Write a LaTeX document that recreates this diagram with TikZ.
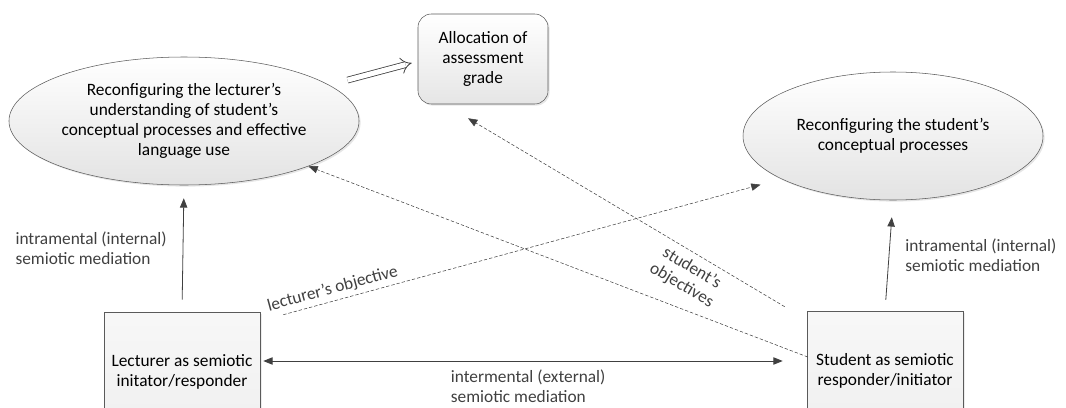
\documentclass[tikz,border=0pt]{standalone}
\usepackage{fontspec}
\setmainfont{Carlito}
\usepackage{tikz}
\usetikzlibrary{arrows.meta, shapes.geometric, shadows}
\definecolor{semline}{HTML}{404040}
\definecolor{semedge}{HTML}{5A5A5A}

\begin{document}
\begin{tikzpicture}[
  x=0.75pt, y=-0.75pt,
  >={Triangle[length=7pt, width=5.5pt]},
  font=\fontsize{13}{15}\selectfont,
  goal/.style={
    ellipse, draw=semedge, top color=white, bottom color=black!11,
    minimum width=225pt, minimum height=96pt, inner sep=1pt, align=center,
    drop shadow={shadow xshift=1.2pt, shadow yshift=-1.2pt, opacity=0.2}
  },
  grade/.style={
    draw=semedge, top color=white, bottom color=black!10, rounded corners=10pt,
    minimum width=97.5pt, minimum height=67.5pt, align=center,
    drop shadow={shadow xshift=1.2pt, shadow yshift=-1.2pt, opacity=0.2}
  },
  agent/.style={
    draw=semedge, top color=black!3, bottom color=black!6,
    minimum width=117pt, minimum height=90pt, align=center,
    drop shadow={shadow xshift=1.2pt, shadow yshift=-1.2pt, opacity=0.15}
  },
  arr/.style={->, semline, line width=0.6pt},
  bothway/.style={<->, semline, line width=0.6pt},
  objarr/.style={->, semline, line width=0.4pt, dash pattern=on 2.5pt off 1.5pt},
  hollow/.style={-{Implies}, semline, line width=0.6pt, double=white, double distance=3.8pt},
  note/.style={align=left, inner sep=2pt},
]
\clip (0,0) rectangle (1066,407);

% Goals
\node[goal] (lgoal) at (184,121) {Reconfiguring the lecturer’s\\understanding of student’s\\conceptual processes and effective\\language use};
\node[grade] (grade) at (483,59) {Allocation of\\assessment\\grade};
\node[goal] (rgoal) at (893,136) {Reconfiguring the student’s\\conceptual processes};

% Agents
\node[agent] (lbox) at (182,372) {Lecturer as semiotic\\initator/responder};
\node[agent] (sbox) at (885,371) {Student as semiotic\\responder/initiator};

% Intramental mediation
\draw[arr, shorten <=9pt, shorten >=9.75pt] (lbox.north) -- (lgoal.south)
  node[note, midway, left=10pt] (lintra) {intramental (internal)\\semiotic mediation};
\draw[arr, shorten <=8.25pt, shorten >=12.75pt] (sbox.north) -- (rgoal.south)
  node[note, midway, right=10pt] (sintra) {intramental (internal)\\semiotic mediation};

% Intermental mediation
\draw[bothway] ([shift={(3,-11)}]lbox.east) -- ([shift={(-24,-10)}]sbox.west)
  node[note, pos=0.51, below=4pt] (inter) {intermental (external)\\semiotic mediation};

% Objectives
\draw[objarr] ([shift={(23,3)}]lbox.north east) -- ([shift={(-18,7)}]rgoal.200)
  node[pos=0.11, sloped, above=1pt, inner sep=2pt] (lobj) {lecturer’s objective};
\draw[objarr] ([shift={(1,-14)}]sbox.west) -- (lgoal.340);
\draw[objarr] ([shift={(-22,-4)}]sbox.north west) -- ([shift={(-15,14)}]grade.south)
  node[pos=0.27, sloped, below=4pt, align=center, inner sep=1pt] (sobj) {student’s\\objectives};

% Grade allocation
\draw[hollow] ([shift={(22,-3)}]lgoal.15) -- ([shift={(-6,4)}]grade.west);

\end{tikzpicture}
\end{document}
